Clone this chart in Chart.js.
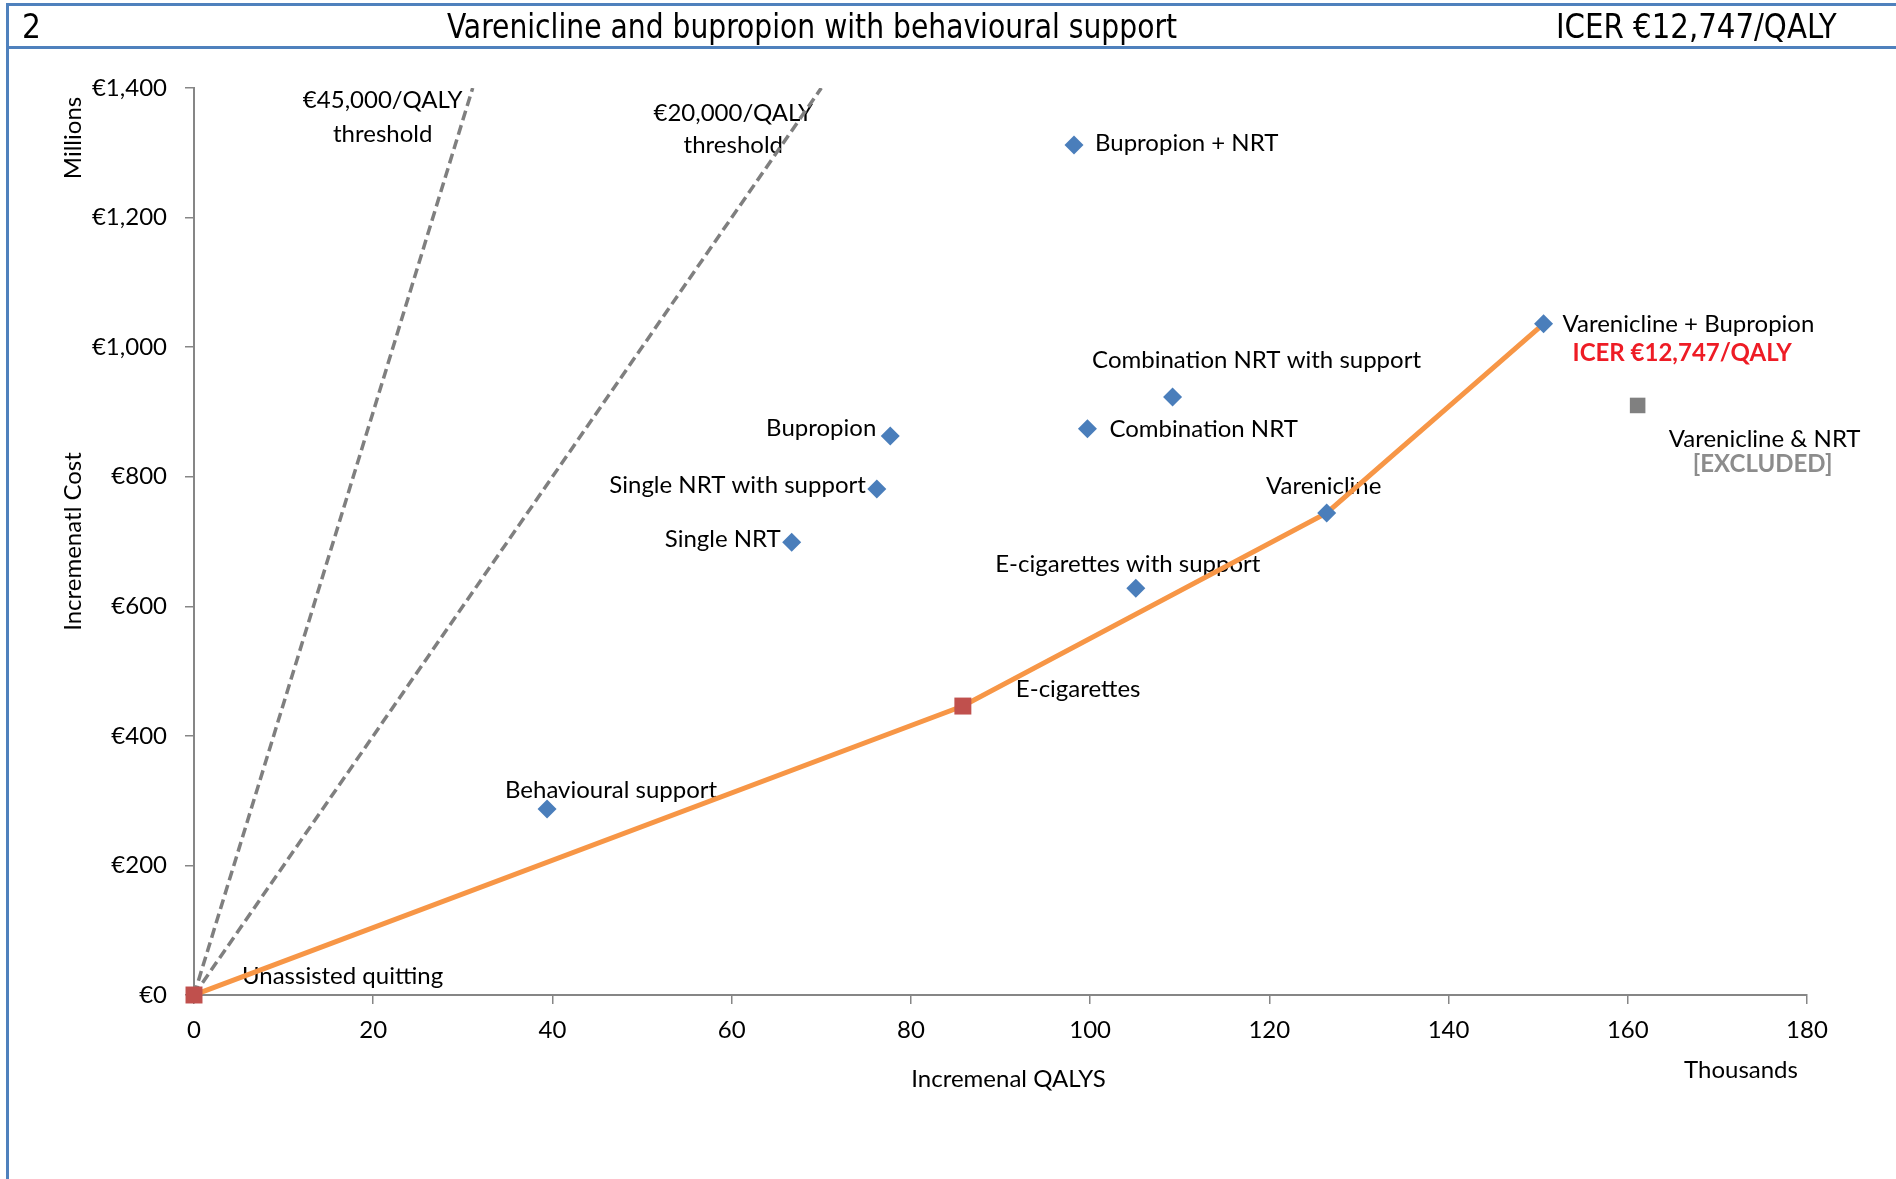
<!DOCTYPE html>
<html lang="en">
<head>
<meta charset="UTF-8">
<title>Varenicline and bupropion with behavioural support</title>
<script src="https://cdn.jsdelivr.net/npm/chart.js"></script>
<style>
  html, body { margin: 0; padding: 0; background: #fff; }
  body { width: 1896px; height: 1179px; position: relative; overflow: hidden; }
  #costChart { position: absolute; left: 0; top: 0; }
  .rule { position: absolute; background: #4F81BD; }
  .head { position: absolute; top: 10px; font-family: "Liberation Sans Narrow", "DejaVu Sans Condensed", sans-serif;
          font-size: 33px; line-height: 33px; color: #000; white-space: nowrap; transform-origin: 0 50%; }
</style>
</head>
<body>
<canvas id="costChart" width="1896" height="1179"></canvas>
<div class="rule" style="left:6px;top:3px;width:3px;height:1176px"></div>
<div class="rule" style="left:6px;top:3px;width:1890px;height:3px"></div>
<div class="rule" style="left:6px;top:46px;width:1890px;height:3px"></div>
<div class="head" style="left:22px">2</div>
<div class="head" style="left:447px;transform:scaleX(0.95)">Varenicline and bupropion with behavioural support</div>
<div class="head" style="left:1556px;transform:scaleX(0.985)">ICER €12,747/QALY</div>
<script>
// strategies: incremental QALYs (thousands) and incremental cost (€ millions)
const strategies = ['Unassisted quitting', 'Behavioural support', 'E-cigarettes', 'E-cigarettes with support',
  'Single NRT', 'Single NRT with support', 'Bupropion', 'Combination NRT', 'Bupropion + NRT',
  'Combination NRT with support', 'Varenicline', 'Varenicline + Bupropion', 'Varenicline & NRT'];
const qalys = [0, 39.4, 85.8, 105.1, 66.7, 76.2, 77.7, 99.7, 98.2, 109.2, 126.4, 150.6, 161.1];
const costs = [0, 287, 446, 628, 699, 781, 863, 874, 1312, 923, 744, 1036, 910];

// cost-effectiveness frontier + marker groups
const frontier = ['Unassisted quitting', 'E-cigarettes', 'Varenicline', 'Varenicline + Bupropion'];
const squareMarked = ['Unassisted quitting', 'E-cigarettes'];
const excluded = ['Varenicline & NRT'];

// willingness-to-pay threshold lines (end points)
const threshold45X = [0, 31.1];
const threshold20X = [0, 70];
const thresholdY = [0, 1400];

// label offsets from the point: dx, dy, align
const labelPlacement = {
  'Unassisted quitting': [48, -19, 'left'],
  'Behavioural support': [64, -19, 'center'],
  'E-cigarettes': [53, -17, 'left'],
  'E-cigarettes with support': [-8, -24, 'center'],
  'Single NRT': [-11, -3, 'right'],
  'Single NRT with support': [-11, -4, 'right'],
  'Bupropion': [-14, -8, 'right'],
  'Combination NRT': [22, 0, 'left'],
  'Bupropion + NRT': [21, -2, 'left'],
  'Combination NRT with support': [84, -37, 'center'],
  'Varenicline': [-3, -27, 'center'],
  'Varenicline + Bupropion': [19, 0, 'left'],
  'Varenicline & NRT': [127, 34, 'center']
};

const pt = name => { const i = strategies.indexOf(name); return {x: qalys[i], y: costs[i]}; };
const others = strategies.filter(n => !squareMarked.includes(n) && !excluded.includes(n));
const labelFont = '24px Lato';

const annotate = {
  id: 'annotate',
  beforeDatasetsDraw(chart) {
    const {ctx, chartArea: a, scales: {x, y}} = chart;
    ctx.save();
    ctx.font = labelFont;
    ctx.fillStyle = '#000';
    ctx.textBaseline = 'middle';
    strategies.forEach((name, i) => {
      const p = labelPlacement[name];
      ctx.textAlign = p[2];
      ctx.fillText(name, x.getPixelForValue(qalys[i]) + p[0], y.getPixelForValue(costs[i]) + p[1]);
    });
    // notes under the frontier end point and the excluded option
    const vb = pt('Varenicline + Bupropion');
    ctx.font = 'bold 24px Lato';
    ctx.fillStyle = '#EE1C25';
    ctx.textAlign = 'left';
    ctx.fillText('ICER €12,747/QALY', x.getPixelForValue(vb.x) + 29, y.getPixelForValue(vb.y) + 29);
    const vn = pt('Varenicline & NRT');
    ctx.fillStyle = '#8C8C8C';
    ctx.textAlign = 'center';
    ctx.fillText('[EXCLUDED]', x.getPixelForValue(vn.x) + 125, y.getPixelForValue(vn.y) + 59);

    // threshold labels
    ctx.font = labelFont;
    ctx.fillStyle = '#000';
    const t45x = x.getPixelForValue(threshold45X[1]), t20x = x.getPixelForValue(threshold20X[1]);
    const ty = y.getPixelForValue(thresholdY[1]);
    ctx.fillText('€45,000/QALY', t45x - 90, ty + 12);
    ctx.fillText('threshold', t45x - 90, ty + 46);
    ctx.fillText('€20,000/QALY', t20x - 88, ty + 25);
    ctx.fillText('threshold', t20x - 88, ty + 57);

    // axis titles
    ctx.fillText('Incremenal QALYS', (a.left + a.right) / 2 + 8, a.bottom + 84);
    ctx.fillText('Thousands', a.right - 66, a.bottom + 75);
    ctx.save();
    ctx.translate(a.left - 121, (a.top + a.bottom) / 2);
    ctx.rotate(-Math.PI / 2);
    ctx.fillText('Incremenatl Cost', 0, 0);
    ctx.restore();
    ctx.save();
    ctx.translate(a.left - 121, a.top + 50);
    ctx.rotate(-Math.PI / 2);
    ctx.fillText('Millions', 0, 0);
    ctx.restore();
    ctx.restore();
  }
};

new Chart(document.getElementById('costChart'), {
  type: 'scatter',
  data: {
    datasets: [
      {
        data: others.map(pt), clip: false,
        pointStyle: 'rectRot', pointRadius: 9.5, pointHoverRadius: 9.5,
        backgroundColor: '#4A7EBB', borderWidth: 0, order: 1
      },
      {
        data: squareMarked.map(pt), clip: false,
        pointStyle: 'rect', pointRadius: 12, pointHoverRadius: 12,
        backgroundColor: '#C0504D', borderWidth: 0, order: 1
      },
      {
        data: excluded.map(pt), clip: false,
        pointStyle: 'rect', pointRadius: 11, pointHoverRadius: 11,
        backgroundColor: '#808080', borderWidth: 0, order: 1
      },
      {
        data: frontier.map(pt), showLine: true, pointRadius: 0,
        borderColor: '#F79646', borderWidth: 5, order: 2
      },
      {
        data: threshold45X.map((v, i) => ({x: v, y: thresholdY[i]})), showLine: true, pointRadius: 0,
        borderColor: '#7F7F7F', borderWidth: 3.5, borderDash: [10, 5], order: 3
      },
      {
        data: threshold20X.map((v, i) => ({x: v, y: thresholdY[i]})), showLine: true, pointRadius: 0,
        borderColor: '#7F7F7F', borderWidth: 3.5, borderDash: [10, 5], order: 3
      }
    ]
  },
  options: {
    responsive: false,
    animation: false,
    layout: { padding: { top: 88, right: 89, left: 0, bottom: 0 } },
    plugins: { legend: { display: false }, tooltip: { enabled: false } },
    scales: {
      x: {
        min: 0, max: 180,
        afterFit(s) { s.height = 184; },
        ticks: { stepSize: 20, color: '#000', font: { family: 'Lato', size: 24 }, padding: 12, maxRotation: 0 },
        grid: { drawOnChartArea: false, tickLength: 9, color: '#868686', lineWidth: 1.5 },
        border: { color: '#868686', width: 2 }
      },
      y: {
        min: 0, max: 1400,
        afterFit(s) { s.width = 194; },
        ticks: {
          stepSize: 200, color: '#000', font: { family: 'Lato', size: 24 }, padding: 18,
          callback: v => '€' + v.toLocaleString('en-US')
        },
        grid: { drawOnChartArea: false, tickLength: 9, color: '#868686', lineWidth: 1.5 },
        border: { color: '#868686', width: 2 }
      }
    }
  },
  plugins: [annotate]
});
</script>
</body>
</html>
